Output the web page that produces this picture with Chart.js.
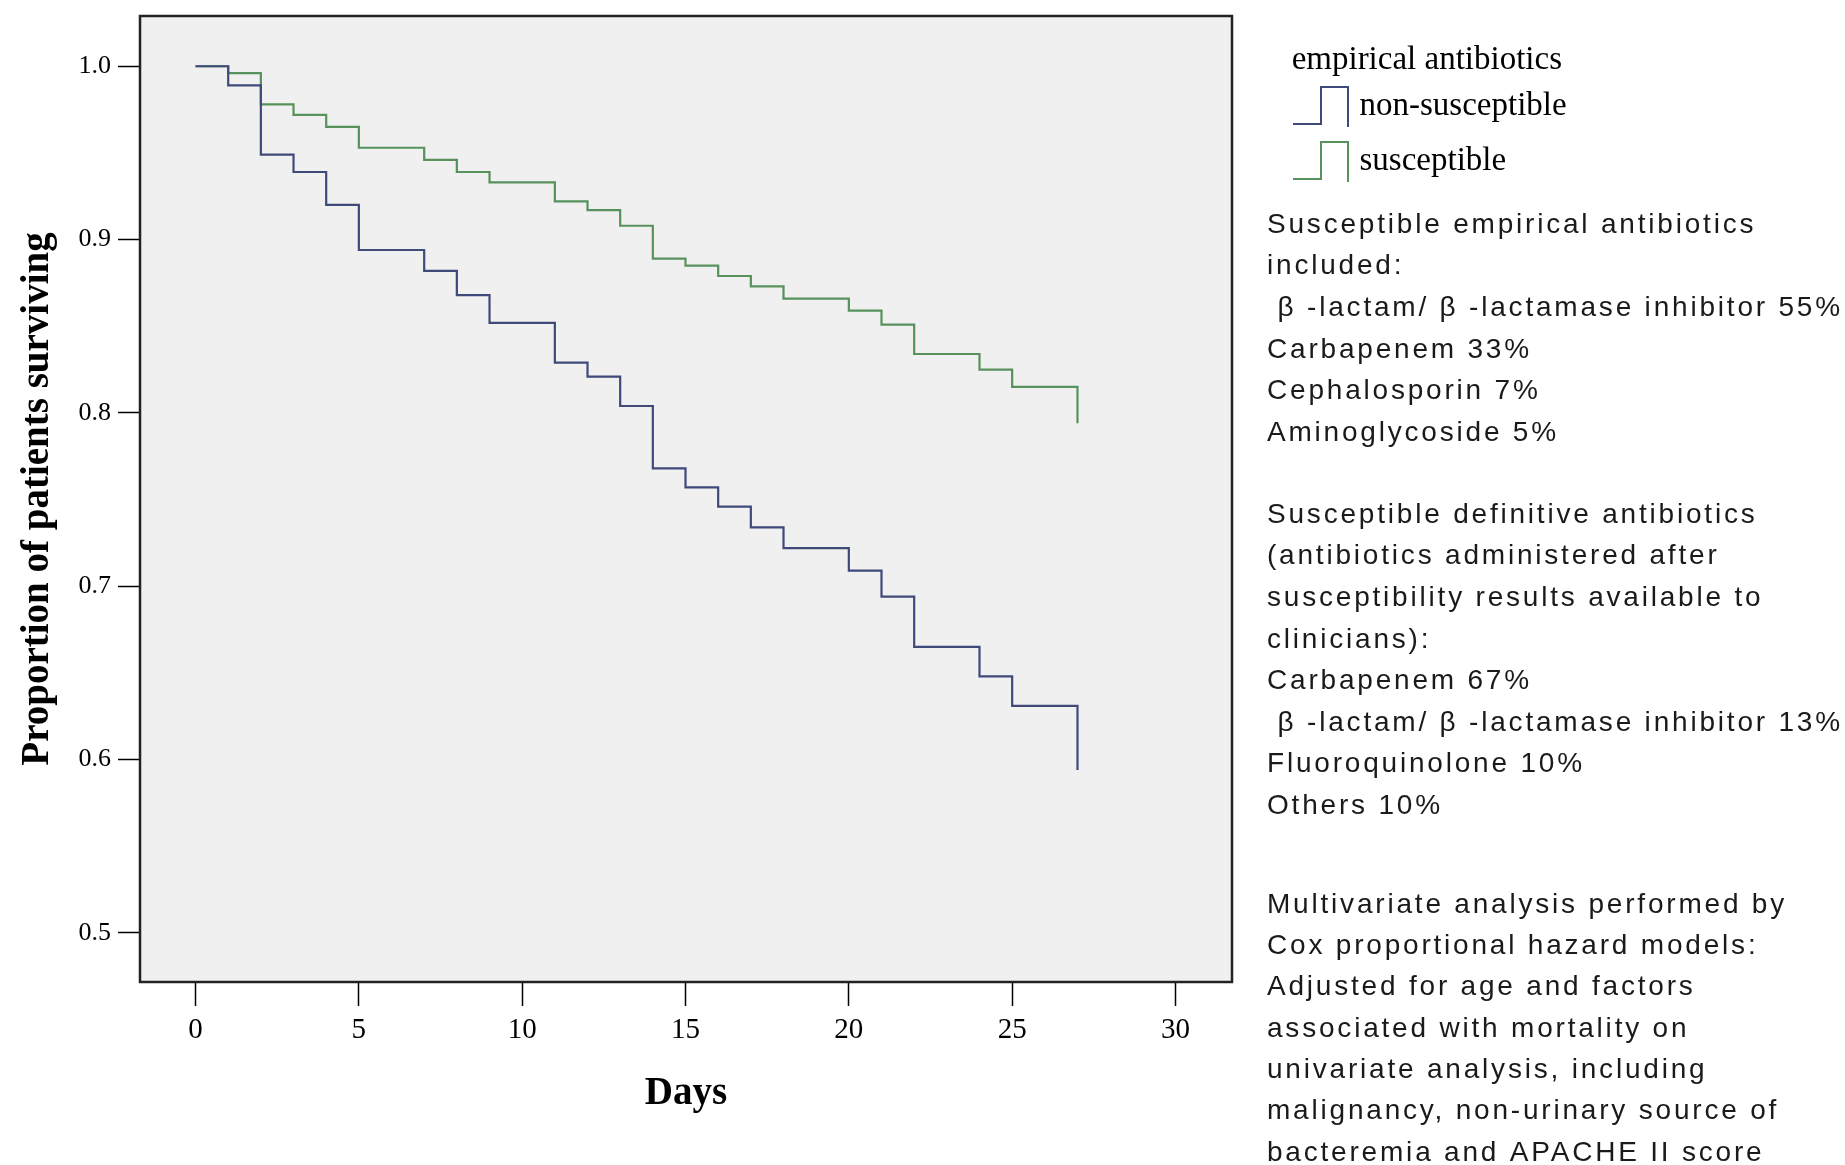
<!DOCTYPE html>
<html>
<head>
<meta charset="utf-8">
<title>Survival by empirical antibiotics</title>
<script src="https://cdn.jsdelivr.net/npm/chart.js@4.4.1/dist/chart.umd.min.js"></script>
<style>
  html, body { margin: 0; padding: 0; background: #fff; }
  #wrap { width: 1845px; height: 1165px; position: relative; }
</style>
</head>
<body>
<div id="wrap"><canvas id="km"></canvas></div>
<script>
// days where the curves step down
const days = [0, 1, 2, 3, 4, 5, 7, 8, 9, 11, 12, 13, 14, 15, 16, 17, 18, 20, 21, 22, 24, 25, 27];
// proportion surviving after each step
const nonSusceptible = [1.0, 0.989, 0.949, 0.939, 0.920, 0.894, 0.882, 0.868, 0.852, 0.829, 0.821, 0.804,
  0.768, 0.757, 0.746, 0.734, 0.722, 0.709, 0.694, 0.665, 0.648, 0.631, 0.594];
const susceptible = [1.0, 0.996, 0.978, 0.972, 0.965, 0.953, 0.946, 0.939, 0.933, 0.922, 0.917, 0.908,
  0.889, 0.885, 0.879, 0.873, 0.866, 0.859, 0.851, 0.834, 0.825, 0.815, 0.794];

const seriesNames = ["non-susceptible", "susceptible"];
const seriesColors = ["#3f4a7a", "#57915c"];
const legendTitle = "empirical antibiotics";

const notesEmpirical = [
  "Susceptible empirical antibiotics",
  "included:",
  " \u03b2 -lactam/ \u03b2 -lactamase inhibitor 55%",
  "Carbapenem 33%",
  "Cephalosporin 7%",
  "Aminoglycoside 5%"
];
const notesDefinitive = [
  "Susceptible definitive antibiotics",
  "(antibiotics administered after",
  "susceptibility results available to",
  "clinicians):",
  "Carbapenem 67%",
  " \u03b2 -lactam/ \u03b2 -lactamase inhibitor 13%",
  "Fluoroquinolone 10%",
  "Others 10%"
];
const notesCox = [
  "Multivariate analysis performed by",
  "Cox proportional hazard models:",
  "Adjusted for age and factors",
  "associated with mortality on",
  "univariate analysis, including",
  "malignancy, non-urinary source of",
  "bacteremia and APACHE II score"
];

// little step glyph used as legend marker
function stepIcon(color) {
  const c = document.createElement("canvas");
  c.width = 58;
  c.height = 44;
  const g = c.getContext("2d");
  g.strokeStyle = color;
  g.lineWidth = 2;
  g.beginPath();
  g.moveTo(1, 40);
  g.lineTo(29, 40);
  g.lineTo(29, 3);
  g.lineTo(56, 3);
  g.lineTo(56, 43);
  g.stroke();
  return c;
}

const serif = '"Liberation Serif", "Times New Roman", serif';
const sans = '"Liberation Sans", Arial, sans-serif';

// legend width, so the plot box ends where it does in the original
const LEGEND_FONT = 33, LEGEND_PAD = 22, LEGEND_BOX = 44, GAP = 45;
const m = document.createElement("canvas").getContext("2d");
m.font = LEGEND_FONT + "px " + serif;
const legendTextW = Math.max(...seriesNames.map(s => m.measureText(s).width));
const legendW = LEGEND_PAD + LEGEND_BOX + LEGEND_FONT / 2 + legendTextW + 10;
const padRight = 1845 - 1232 - GAP - legendW;

function toPoints(vals) {
  return days.map((d, i) => ({ x: d, y: vals[i] }));
}

const plotFrame = {
  id: "plotFrame",
  beforeDraw(chart) {
    const { ctx, chartArea: a } = chart;
    ctx.save();
    ctx.fillStyle = "#f0f0f0";
    ctx.fillRect(a.left, a.top, a.right - a.left, a.bottom - a.top);
    ctx.restore();
  },
  afterDraw(chart) {
    const { ctx, chartArea: a } = chart;
    ctx.save();
    ctx.strokeStyle = "#222";
    ctx.lineWidth = 2.5;
    ctx.strokeRect(a.left, a.top, a.right - a.left, a.bottom - a.top);

    ctx.fillStyle = "#1a1a1a";
    ctx.font = "28px " + sans;
    if ("letterSpacing" in ctx) ctx.letterSpacing = "2.8px";
    ctx.textAlign = "left";
    ctx.textBaseline = "middle";
    notesEmpirical.forEach((t, i) => ctx.fillText(t, 1267, 225 + i * 41.6));
    notesDefinitive.forEach((t, i) => ctx.fillText(t, 1267, 515 + i * 41.6));
    notesCox.forEach((t, i) => ctx.fillText(t, 1267, 905 + i * 41.3));
    ctx.restore();
  }
};

Chart.defaults.font.family = serif;
Chart.defaults.color = "#000";

const ctx = document.getElementById("km").getContext("2d");
new Chart(ctx, {
  type: "line",
  data: {
    datasets: [
      {
        label: seriesNames[0],
        data: toPoints(nonSusceptible),
        borderColor: seriesColors[0],
        pointStyle: stepIcon(seriesColors[0]),
        xAxisID: "x",
        yAxisID: "y"
      },
      {
        label: seriesNames[1],
        data: toPoints(susceptible),
        borderColor: seriesColors[1],
        pointStyle: stepIcon(seriesColors[1]),
        xAxisID: "x",
        yAxisID: "y"
      }
    ]
  },
  options: {
    responsive: true,
    maintainAspectRatio: false,
    animation: false,
    devicePixelRatio: 1,
    layout: { padding: { top: 16, left: 0, bottom: 0, right: padRight } },
    elements: {
      line: { stepped: true, borderWidth: 2.2, fill: false, tension: 0 },
      point: { radius: 0, hoverRadius: 0 }
    },
    plugins: {
      tooltip: { enabled: false },
      legend: {
        position: "right",
        align: "start",
        maxWidth: 600,
        labels: {
          usePointStyle: true,
          pointStyleWidth: LEGEND_BOX,
          padding: LEGEND_PAD,
          color: "#000",
          font: { family: serif, size: LEGEND_FONT }
        },
        title: {
          display: true,
          text: legendTitle,
          position: "center",
          color: "#000",
          font: { family: serif, size: LEGEND_FONT, lineHeight: 1 },
          padding: { top: 27.5, bottom: -9 }
        }
      }
    },
    scales: {
      x: {
        type: "linear",
        min: -1.7,
        max: 31.73,
        afterFit(s) { s.height = 183; },
        border: { display: false },
        grid: { display: true, drawOnChartArea: false, drawTicks: true, tickLength: 24, tickColor: "#000", tickWidth: 1.5 },
        ticks: {
          stepSize: 5,
          includeBounds: false,
          padding: 7,
          color: "#000",
          font: { family: serif, size: 29, lineHeight: 1.2 }
        },
        title: {
          display: true,
          text: "Days",
          color: "#000",
          font: { family: serif, size: 39, weight: "bold", lineHeight: 1.2 },
          padding: { top: 0, bottom: 47.6 }
        }
      },
      y: {
        type: "linear",
        position: "left",
        min: 0.4717,
        max: 1.029,
        afterFit(s) {
          s.width = 140;
          s.paddingTop = 0;
          s.paddingBottom = 0;
        },
        border: { display: false },
        grid: { display: true, drawOnChartArea: false, drawTicks: true, tickLength: 22, tickColor: "#000", tickWidth: 1.5 },
        ticks: {
          stepSize: 0.1,
          includeBounds: false,
          padding: 7,
          color: "#000",
          font: { family: serif, size: 26 },
          callback: v => Number(v).toFixed(1)
        },
        title: {
          display: true,
          text: "Proportion of patients surviving",
          color: "#000",
          font: { family: serif, size: 39, weight: "bold", lineHeight: 1.2 },
          padding: { top: 14.6, bottom: 0 }
        }
      },
      // empty strip between plot box and legend
      gap: {
        type: "linear",
        position: "right",
        display: true,
        afterFit(s) {
          s.width = GAP;
          s.paddingTop = 0;
          s.paddingBottom = 0;
        },
        border: { display: false },
        grid: { display: false },
        ticks: { display: false }
      }
    }
  },
  plugins: [plotFrame]
});
</script>
</body>
</html>
